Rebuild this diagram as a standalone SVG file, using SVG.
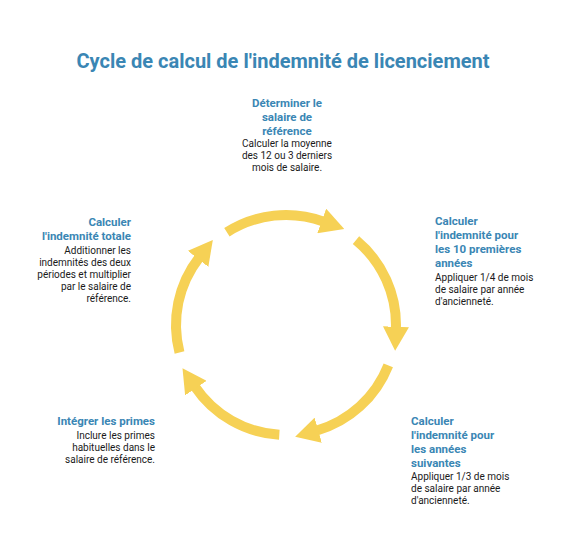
<svg xmlns="http://www.w3.org/2000/svg" width="566" height="554" viewBox="0 0 566 554">
<style>
.title{font-family:Roboto,"Liberation Sans",sans-serif;font-weight:bold;font-size:20px;fill:#3a86b4}
.h{font-family:Roboto,"Liberation Sans",sans-serif;font-weight:bold;font-size:11.5px;fill:#3a86b4}
.b{font-family:Roboto,"Liberation Sans",sans-serif;font-size:10px;fill:#1a1a1a}
.arc{fill:none;stroke:#f6d155;stroke-width:10}
</style>
<defs>
<marker id="ah" viewBox="0 0 24 26" refX="2" refY="13" markerWidth="24" markerHeight="26" markerUnits="userSpaceOnUse" orient="auto">
<path d="M0,0 L24,13 L0,26 z" fill="#f6d155"/>
</marker>
</defs>
<rect width="566" height="554" fill="#ffffff"/>
<text class="title" x="283" y="68" text-anchor="middle">Cycle de calcul de l'indemnité de licenciement</text>
<g id="connectors">
<path class="arc" marker-end="url(#ah)" d="M226.9,232.2 A110,110 0 0 1 323.6,221.6"/>
<path class="arc" marker-end="url(#ah)" d="M356.0,240.1 A110,110 0 0 1 395.9,328.8"/>
<path class="arc" marker-end="url(#ah)" d="M388.3,365.3 A110,110 0 0 1 316.3,430.7"/>
<path class="arc" marker-end="url(#ah)" d="M279.3,434.8 A110,110 0 0 1 194.8,386.5"/>
<path class="arc" marker-end="url(#ah)" d="M179.5,352.5 A110,110 0 0 1 199.3,257.3"/>
</g>
<g id="node1" text-anchor="middle">
<text class="h" x="287" y="107">Déterminer le</text>
<text class="h" x="287" y="121">salaire de</text>
<text class="h" x="287" y="135">référence</text>
<text class="b" x="287" y="147">Calculer la moyenne</text>
<text class="b" x="287" y="159">des 12 ou 3 derniers</text>
<text class="b" x="287" y="171">mois de salaire.</text>
</g>
<g id="node2">
<text class="h" x="435" y="225">Calculer</text>
<text class="h" x="435" y="239">l'indemnité pour</text>
<text class="h" x="435" y="253">les 10 premières</text>
<text class="h" x="435" y="267">années</text>
<text class="b" x="435" y="281">Appliquer 1/4 de mois</text>
<text class="b" x="435" y="293">de salaire par année</text>
<text class="b" x="435" y="305">d'ancienneté.</text>
</g>
<g id="node3">
<text class="h" x="411" y="425">Calculer</text>
<text class="h" x="411" y="439">l'indemnité pour</text>
<text class="h" x="411" y="453">les années</text>
<text class="h" x="411" y="467">suivantes</text>
<text class="b" x="411" y="480">Appliquer 1/3 de mois</text>
<text class="b" x="411" y="492">de salaire par année</text>
<text class="b" x="411" y="504">d'ancienneté.</text>
</g>
<g id="node4" text-anchor="end">
<text class="h" x="155" y="425">Intégrer les primes</text>
<text class="b" x="155" y="439">Inclure les primes</text>
<text class="b" x="155" y="451">habituelles dans le</text>
<text class="b" x="155" y="463">salaire de référence.</text>
</g>
<g id="node5" text-anchor="end">
<text class="h" x="131" y="226">Calculer</text>
<text class="h" x="131" y="240">l'indemnité totale</text>
<text class="b" x="131" y="254">Additionner les</text>
<text class="b" x="131" y="266">indemnités des deux</text>
<text class="b" x="131" y="278">périodes et multiplier</text>
<text class="b" x="131" y="290">par le salaire de</text>
<text class="b" x="131" y="302">référence.</text>
</g>
</svg>
